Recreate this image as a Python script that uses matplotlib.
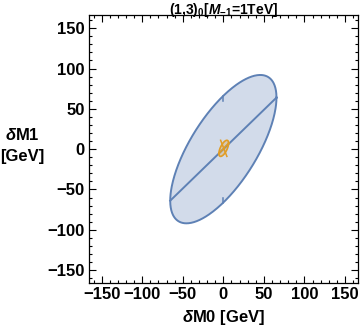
import numpy as np
import matplotlib.pyplot as plt
from matplotlib.ticker import MultipleLocator

plt.rcParams['font.family'] = ['Liberation Sans', 'DejaVu Sans']
plt.rcParams['font.weight'] = 'bold'
plt.rcParams['mathtext.fontset'] = 'custom'
plt.rcParams['mathtext.rm'] = 'Liberation Sans:bold'
plt.rcParams['mathtext.it'] = 'Liberation Sans:bold:italic'
plt.rcParams['mathtext.bf'] = 'Liberation Sans:bold'

# ellipse data: x = A cos t, y = B cos(t + phi)
big_center = [0.0, 0.0]
big_semi = [65.5, 92.0]
big_phase = 46.0
small_center = [0.5, 1.0]
small_semi = [6.0, 10.0]
small_phase = 50.0

xlim = [-166, 166]
ylim = [-166, 166]
ticks = [-150, -100, -50, 0, 50, 100, 150]

blue = '#5e81b5'
orange = '#e19c24'


def ellipse(center, semi, phase):
    t = np.linspace(0, 2 * np.pi, 400)
    ph = np.radians(phase)
    return center[0] + semi[0] * np.cos(t), center[1] + semi[1] * np.cos(t + ph)


def draw(ax, center, semi, phase, color, lw):
    x, y = ellipse(center, semi, phase)
    ax.fill(x, y, color=color, alpha=0.28, lw=0)
    ax.plot(x, y, color=color, lw=lw)
    ph = np.radians(phase)
    # line through the points of vertical tangent
    ax.plot([center[0] - semi[0], center[0] + semi[0]],
            [center[1] - semi[1] * np.cos(ph), center[1] + semi[1] * np.cos(ph)],
            color=color, lw=lw)
    return ph


fig = plt.figure(figsize=(3.6, 3.34), dpi=100)
ax = fig.add_axes([0.2464, 0.1527, 0.748, 0.8015])

ph = draw(ax, big_center, big_semi, big_phase, blue, 1.4)
yc = big_semi[1] * np.sin(ph)
ax.plot([0, 0], [yc, yc - 6], color=blue, lw=1.1)
ax.plot([0, 0], [-yc, -yc + 6], color=blue, lw=1.1)

ph2 = draw(ax, small_center, small_semi, small_phase, orange, 1.2)
ax.plot([small_center[0] - small_semi[0] * np.cos(ph2), small_center[0] + small_semi[0] * np.cos(ph2)],
        [small_center[1] + small_semi[1], small_center[1] - small_semi[1]],
        color=orange, lw=1.1)

ax.set_xlim(xlim)
ax.set_ylim(ylim)
ax.set_xticks(ticks)
ax.set_yticks(ticks)
ax.set_xticklabels(['\u2212' + str(-v) if v < 0 else str(v) for v in ticks])
ax.set_yticklabels(['\u2212' + str(-v) if v < 0 else str(v) for v in ticks])
ax.xaxis.set_minor_locator(MultipleLocator(10))
ax.yaxis.set_minor_locator(MultipleLocator(10))
ax.tick_params(which='both', direction='in', top=True, right=True, labelsize=12, width=0.8)
ax.tick_params(which='major', length=5, pad=3)
ax.tick_params(which='minor', length=2.5)
for s in ax.spines.values():
    s.set_linewidth(0.9)

ax.set_xlabel(r'$\delta$M0 [GeV]', fontsize=12, fontweight='bold', labelpad=4)
fig.text(0.062, 0.563, r'$\delta$M1' + '\n[GeV]', fontsize=12, fontweight='bold',
         ha='center', va='center', linespacing=1.5)
fig.text(0.622, 0.998, r'(1,3)$_0$[$M_{-1}$=1TeV]', fontsize=10, fontweight='bold',
         ha='center', va='top')

fig.savefig('out.png', dpi=100)
